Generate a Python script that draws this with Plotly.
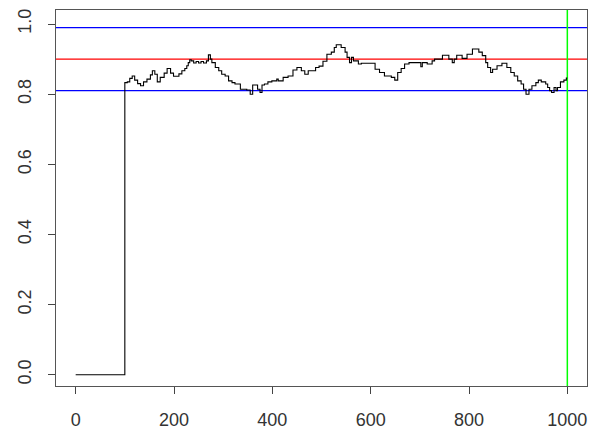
import plotly.graph_objects as go

# Running estimate: step series (iteration, value)
iters = [0, 100, 105, 110, 115, 120, 126, 132, 138, 145, 152, 156, 161, 166, 172,
         180, 186, 193, 199, 210, 216, 222, 226, 229, 232, 235, 240, 245, 250, 255,
         260, 266, 270, 274, 277, 284, 291, 297, 304, 311, 318, 324, 335, 348, 355,
         360, 370, 375, 379, 384, 391, 399, 409, 412, 422, 432, 442, 450, 459, 466,
         473, 488, 495, 503, 511, 520, 526, 530, 540, 548, 552, 557, 561, 565, 575,
         581, 609, 618, 628, 642, 649, 655, 662, 669, 678, 702, 705, 715, 725, 730,
         746, 759, 766, 770, 775, 786, 796, 807, 820, 827, 834, 838, 844, 848, 857,
         867, 877, 885, 892, 899, 906, 911, 916, 922, 928, 936, 941, 947, 956, 960,
         964, 968, 973, 977, 980, 986, 993, 998, 1000]
values = [0.0, 0.833, 0.835, 0.845, 0.852, 0.840, 0.830, 0.824, 0.835, 0.843, 0.855,
          0.867, 0.857, 0.835, 0.848, 0.860, 0.873, 0.860, 0.851, 0.858, 0.867, 0.873,
          0.881, 0.890, 0.898, 0.895, 0.889, 0.893, 0.889, 0.893, 0.889, 0.895, 0.912,
          0.900, 0.890, 0.876, 0.867, 0.857, 0.852, 0.838, 0.833, 0.829, 0.814, 0.812,
          0.800, 0.826, 0.814, 0.805, 0.826, 0.829, 0.835, 0.838, 0.843, 0.838, 0.848,
          0.852, 0.869, 0.876, 0.867, 0.857, 0.867, 0.876, 0.880, 0.894, 0.914, 0.920,
          0.933, 0.941, 0.933, 0.920, 0.905, 0.890, 0.905, 0.895, 0.886, 0.888, 0.871,
          0.862, 0.852, 0.848, 0.840, 0.862, 0.873, 0.886, 0.890, 0.878, 0.890, 0.886,
          0.895, 0.900, 0.911, 0.900, 0.890, 0.900, 0.911, 0.902, 0.914, 0.929, 0.920,
          0.910, 0.890, 0.876, 0.862, 0.871, 0.881, 0.888, 0.876, 0.862, 0.852, 0.838,
          0.829, 0.814, 0.800, 0.814, 0.824, 0.833, 0.840, 0.835, 0.829, 0.819, 0.810,
          0.805, 0.819, 0.810, 0.819, 0.835, 0.840, 0.846, 0.846]

# Reference levels
target = 0.90
lower_bound = 0.81
upper_bound = 0.99
end_iter = 1000

x_ticks = [0, 200, 400, 600, 800, 1000]
y_ticks = [0.0, 0.2, 0.4, 0.6, 0.8, 1.0]
y_tick_text = ["0.0", "0.2", "0.4", "0.6", "0.8", "1.0"]

x_range = [-40, 1040]
y_range = [-0.032, 1.04]

fig = go.Figure()


def hline(y, color):
    fig.add_trace(go.Scatter(x=x_range, y=[y, y], mode="lines",
                             line=dict(color=color, width=1.2),
                             showlegend=False, hoverinfo="skip"))


hline(upper_bound, "#0000FF")
hline(target, "#FF0000")
hline(lower_bound, "#0000FF")

fig.add_trace(go.Scatter(x=[end_iter, end_iter], y=y_range, mode="lines",
                         line=dict(color="#00FF00", width=1.5),
                         showlegend=False, hoverinfo="skip"))

fig.add_trace(go.Scatter(x=iters, y=values, mode="lines",
                         line=dict(color="black", width=1.1, shape="hv"),
                         showlegend=False, hoverinfo="skip"))

axis_font = dict(family="Liberation Sans, Arial, sans-serif", size=18, color="#333333")

fig.update_layout(
    width=594, height=444,
    margin=dict(l=56, r=7, t=10, b=58),
    paper_bgcolor="white", plot_bgcolor="white",
    xaxis=dict(range=x_range, tickvals=x_ticks, ticks="outside", ticklen=7,
               tickcolor="#444444", showgrid=False, zeroline=False,
               showline=True, mirror=True, linecolor="#555555", linewidth=1,
               tickfont=axis_font, ticklabelstandoff=10),
    yaxis=dict(range=y_range, tickvals=y_ticks, ticktext=y_tick_text,
               ticks="outside", ticklen=7, tickcolor="#444444", tickangle=-90,
               showgrid=False, zeroline=False, showline=True, mirror=True,
               linecolor="#555555", linewidth=1, tickfont=axis_font,
               ticklabelstandoff=10),
)

fig.write_html("out.html")
